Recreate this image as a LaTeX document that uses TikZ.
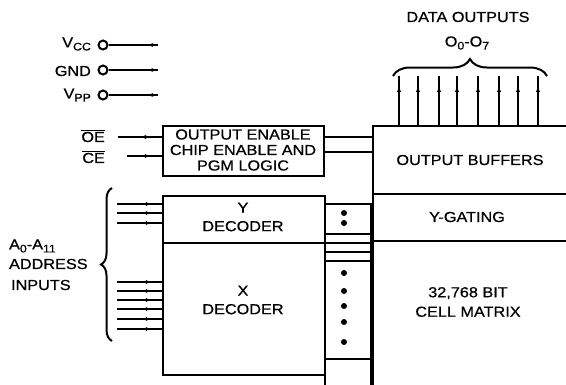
\documentclass[tikz,border=0pt]{standalone}
\usepackage{fontspec}
\setmainfont{Liberation Sans}[FakeStretch=1.12,FakeBold=0.6]
\usetikzlibrary{decorations.markings,decorations.pathreplacing,arrows.meta}
\begin{document}
\begin{tikzpicture}[x=1pt,y=-1pt,line width=2.2pt,
  blk/.style={draw,line width=2.2pt,inner sep=0pt,anchor=north west},
  txt/.style={font=\fontsize{14.5}{16.5}\selectfont,inner sep=0pt,align=center},
  midarrow/.style={postaction={decorate},decoration={markings,mark=at position #1 with {\arrow{Latex[length=5pt,width=4.5pt]}}}},
  sig/.style={line width=2pt},
  pin/.style={circle,draw,line width=2pt,minimum size=9pt,inner sep=0pt},
  dotm/.style={circle,fill,minimum size=6pt,inner sep=0pt},
  bracestyle/.style={decorate,decoration={brace,amplitude=#1},line width=2pt}]
\clip (0,0) rectangle (566,384);
\newcommand{\sbs}[1]{\raisebox{-3pt}{\fontsize{11}{11}\selectfont #1}}
% ---- blocks
\node[blk,minimum width=161pt,minimum height=50pt] (oe) at (162,125) {};
\node[blk,minimum width=162pt,minimum height=47pt] (ydec) at (162,195) {};
\node[blk,minimum width=162pt,minimum height=132pt] (xdec) at (162,242) {};
\node[blk,minimum width=46pt,minimum height=30pt] (ys) at (324,203) {};
\node[blk,minimum width=46pt,minimum height=9pt] (s1) at (324,233) {};
\node[blk,minimum width=46pt,minimum height=9pt] (s2) at (324,242) {};
\node[blk,minimum width=46pt,minimum height=9pt] (s3) at (324,251) {};
\node[blk,minimum width=46pt,minimum height=98pt] (xs) at (324,260) {};
\node[blk,minimum width=46pt,minimum height=40pt] (s4) at (324,358) {};
\node[blk,minimum width=220pt,minimum height=68pt] (obuf) at (372,125) {};
\node[blk,minimum width=220pt,minimum height=47pt] (yg) at (372,193) {};
\node[blk,minimum width=220pt,minimum height=160pt] (cm) at (372,240) {};
% ---- block texts
\node[txt] (toe) at (243,150) {OUTPUT ENABLE\\[-1pt]CHIP ENABLE AND\\[-1pt]PGM LOGIC};
\node[txt] (tyd) at (243,217) {Y\\[2pt]DECODER};
\node[txt] (txd) at (243,300) {X\\[2pt]DECODER};
\node[txt] (tob) at (470,160) {OUTPUT BUFFERS};
\node[txt] (tyg) at (467,217) {Y-GATING};
\node[txt] (tcm) at (468,302) {32,768 BIT\\[3pt]CELL MATRIX};
% ---- dots in strip
\node[dotm] (p1) at (344,213) {};
\node[dotm] (p2) at (344,223) {};
\node[dotm] (p3) at (344,273) {};
\node[dotm] (p4) at (344,291) {};
\node[dotm] (p5) at (344,306) {};
\node[dotm] (p6) at (344,322) {};
\node[dotm] (p7) at (344,342) {};
% ---- power pins
\node[pin] (vcc) at (103,45) {};
\node[pin] (gnd) at (103,70) {};
\node[pin] (vpp) at (103,95) {};
\node[txt,anchor=east] (lvcc) at (92,44) {V\sbs{CC}};
\node[txt,anchor=east] (lgnd) at (92,71) {GND};
\node[txt,anchor=east] (lvpp) at (92,95) {V\sbs{PP}};
\coordinate (evcc) at (158,45);
\coordinate (egnd) at (158,70);
\coordinate (evpp) at (158,95);
\draw[sig,midarrow=0.97] (vcc) -- (evcc);
\draw[sig,midarrow=0.97] (gnd) -- (egnd);
\draw[sig,midarrow=0.97] (vpp) -- (evpp);
% ---- OE / CE
\node[txt,anchor=east] (loe) at (106,136) {$\overline{\mbox{OE}}$};
\node[txt,anchor=east] (lce) at (106,157) {$\overline{\mbox{CE}}$};
\coordinate (soe) at (118,137);
\coordinate (sce) at (127,156);
\draw[sig,midarrow=0.72] (soe) -- (soe -| oe.west);
\draw[sig,midarrow=0.65] (sce) -- (sce -| oe.west);
\draw[sig] (oe.east |- 0,137) -- (obuf.west |- 0,137);
\draw[sig] (oe.east |- 0,152) -- (obuf.west |- 0,152);
% ---- address inputs
\foreach \yy/\nm in {204/a1,213/a2,223/a3,282/a4,291/a5,300/a6,309/a7,319/a8,329/a9}{
  \coordinate (\nm) at (117,\yy);
  \draw[sig,midarrow=0.75] (\nm) -- (\nm -| ydec.west);
}
\coordinate (bb) at (112,341);
\coordinate (bt) at (112,188);
\draw[bracestyle=11pt] (bb) -- (bt);
\node[txt,anchor=west] (la) at (8,246) {A\sbs{0}-A\sbs{11}};
\node[txt,anchor=west] (lad) at (8,264) {ADDRESS};
\node[txt,anchor=west] (lin) at (10,285) {INPUTS};
% ---- data outputs
\foreach \xx/\nm in {399/d0,418/d1,439/d2,457/d3,478/d4,499/d5,518/d6,538/d7}{
  \coordinate (\nm) at (\xx,76);
  \draw[sig,midarrow=0.78] (\nm |- obuf.north) -- (\nm);
}
\coordinate (dbl) at (393,76);
\coordinate (dbr) at (547,76);
\draw[bracestyle=17pt] (dbl) -- (dbr);
\node[txt] (ldo) at (468,17) {DATA OUTPUTS};
\node[txt] (lo) at (467,43) {O\sbs{0}-O\sbs{7}};
\end{tikzpicture}
\end{document}
